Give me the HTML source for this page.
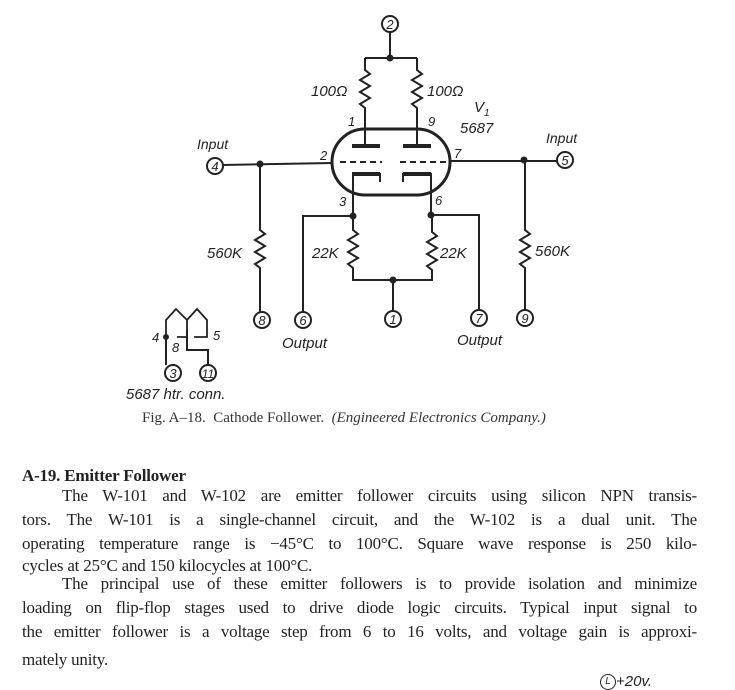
<!DOCTYPE html>
<html><head><style>
body{margin:0;width:735px;height:688px;background:#fff;overflow:hidden;position:relative;font-family:"Liberation Serif",serif;color:#222}
.l{position:absolute;font-size:17px;line-height:20px;white-space:nowrap;text-align:justify;text-align-last:justify;letter-spacing:-0.2px}
svg{position:absolute;left:0;top:0}
</style></head><body>
<svg width="735" height="460" viewBox="0 0 735 460" font-family="Liberation Sans, sans-serif" font-style="italic" fill="none" stroke="#222" stroke-width="2">
<circle cx="390" cy="24" r="8"/><text x="390" y="29" font-size="13" text-anchor="middle" fill="#222" stroke="none">2</text>
<path d="M390 32V58M365 58H417"/>
<circle cx="390" cy="58" r="2.5" fill="#222"/>
<path d="M365 58V70l5 4-10 6 10 6-10 6 10 6-10 6 5 4V130"/>
<path d="M417 58V70l5 4-10 6 10 6-10 6 10 6-10 6 5 4V130"/>
<g fill="#222" stroke="none" font-size="15">
<text x="311" y="96">100Ω</text><text x="427" y="96">100Ω</text>
<text x="474" y="112">V</text><text x="484" y="116" font-size="10">1</text>
<text x="460" y="133">5687</text>
<text x="348" y="126" font-size="13">1</text><text x="428" y="126" font-size="13">9</text>
<text x="320" y="160" font-size="13">2</text><text x="454" y="158" font-size="13">7</text>
<text x="339" y="206" font-size="13">3</text><text x="435" y="205" font-size="13">6</text>
<text x="197" y="149" font-size="14">Input</text><text x="546" y="143" font-size="14">Input</text>
<text x="207" y="258">560K</text><text x="535" y="256">560K</text>
<text x="312" y="258">22K</text><text x="440" y="258">22K</text>
<text x="282" y="348">Output</text><text x="457" y="345">Output</text>
<text x="152" y="342" font-size="13">4</text><text x="172" y="352" font-size="13">8</text><text x="213" y="340" font-size="13">5</text>
<text x="126" y="399">5687 htr. conn.</text>
</g>
<rect x="332" y="129" width="118" height="66" rx="33" stroke-width="3"/>
<path d="M352 146H380M403 146H431" stroke-width="4"/>
<path d="M340 162H382M400 162H450" stroke-dasharray="6 4"/>
<path d="M353 217V174H380V182M431 217V174H403V182" />
<path d="M352 174H380M403 174H431" stroke-width="4"/>
<path d="M365 130V146M417 130V146"/>
<circle cx="215" cy="166" r="8"/><text x="215" y="171" font-size="13" text-anchor="middle" fill="#222" stroke="none">4</text>
<path d="M223 165L333 163"/><circle cx="260" cy="164" r="2.5" fill="#222"/>
<circle cx="565" cy="160" r="8"/><text x="565" y="165" font-size="13" text-anchor="middle" fill="#222" stroke="none">5</text>
<path d="M450 161H557"/><circle cx="524" cy="160" r="2.5" fill="#222"/>
<path d="M260 164V230l5 4-10 6 10 6-10 6 10 6-10 6 5 4V312"/>
<path d="M525 160V230l5 4-10 6 10 6-10 6 10 6-10 6 5 4V310"/>
<circle cx="262" cy="320" r="8"/><text x="262" y="325" font-size="13" text-anchor="middle" fill="#222" stroke="none">8</text>
<circle cx="525" cy="318" r="8"/><text x="525" y="323" font-size="13" text-anchor="middle" fill="#222" stroke="none">9</text>
<path d="M303 312V216H353M479 310V215H431"/>
<circle cx="353" cy="216" r="2.5" fill="#222"/><circle cx="431" cy="215" r="2.5" fill="#222"/>
<path d="M353 216V230l5 4-10 6 10 6-10 6 10 6-10 6 5 4V280H432V270l-5-4 10-6-10-6 10-6-10-6 10-6-5-4V215"/>
<circle cx="393" cy="280" r="2.5" fill="#222"/><path d="M393 280V311"/>
<circle cx="303" cy="320" r="8"/><text x="303" y="325" font-size="13" text-anchor="middle" fill="#222" stroke="none">6</text>
<circle cx="393" cy="319" r="8"/><text x="393" y="324" font-size="13" text-anchor="middle" fill="#222" stroke="none">1</text>
<circle cx="479" cy="318" r="8"/><text x="479" y="323" font-size="13" text-anchor="middle" fill="#222" stroke="none">7</text>
<path d="M166 337V320L176 309L187 320V337M177 337H187V320L197 309L207 320V337H194" stroke-width="1.8"/>
<circle cx="166" cy="337" r="2" fill="#222"/>
<path d="M166 337V365M187 330V350H208V365"/>
<circle cx="173" cy="373" r="8"/><text x="173" y="378" font-size="13" text-anchor="middle" fill="#222" stroke="none">3</text>
<circle cx="208" cy="373" r="8"/><text x="208" y="378" font-size="12" text-anchor="middle" fill="#222" stroke="none">11</text>
</svg>
<div style="position:absolute;left:142px;top:410px;font-size:15px;color:#333">Fig. A–18.&nbsp; Cathode Follower.&nbsp; <i>(Engineered Electronics Company.)</i></div>
<div class="l" style="left:22px;top:466px;font-weight:bold;text-align:left;text-align-last:left">A-19. Emitter Follower</div>
<div class="l" style="left:62px;top:486px;width:635px">The W-101 and W-102 are emitter follower circuits using silicon NPN transis-</div>
<div class="l" style="left:22px;top:510px;width:675px">tors. The W-101 is a single-channel circuit, and the W-102 is a dual unit. The</div>
<div class="l" style="left:22px;top:534px;width:675px">operating temperature range is −45°C to 100°C. Square wave response is 250 kilo-</div>
<div class="l" style="left:22px;top:556px;text-align:left;text-align-last:left">cycles at 25°C and 150 kilocycles at 100°C.</div>
<div class="l" style="left:62px;top:574px;width:635px">The principal use of these emitter followers is to provide isolation and minimize</div>
<div class="l" style="left:22px;top:598px;width:675px">loading on flip-flop stages used to drive diode logic circuits. Typical input signal to</div>
<div class="l" style="left:22px;top:622px;width:675px">the emitter follower is a voltage step from 6 to 16 volts, and voltage gain is approxi-</div>
<div class="l" style="left:22px;top:650px;text-align:left;text-align-last:left">mately unity.</div>
<div style="position:absolute;left:600px;top:673px;font-family:'Liberation Sans',sans-serif;font-style:italic;font-size:15px"><span style="display:inline-block;width:14px;height:14px;border:1.5px solid #222;border-radius:50%;font-size:10px;text-align:center;line-height:14px;vertical-align:middle">L</span>+20v.</div>
</body></html>
